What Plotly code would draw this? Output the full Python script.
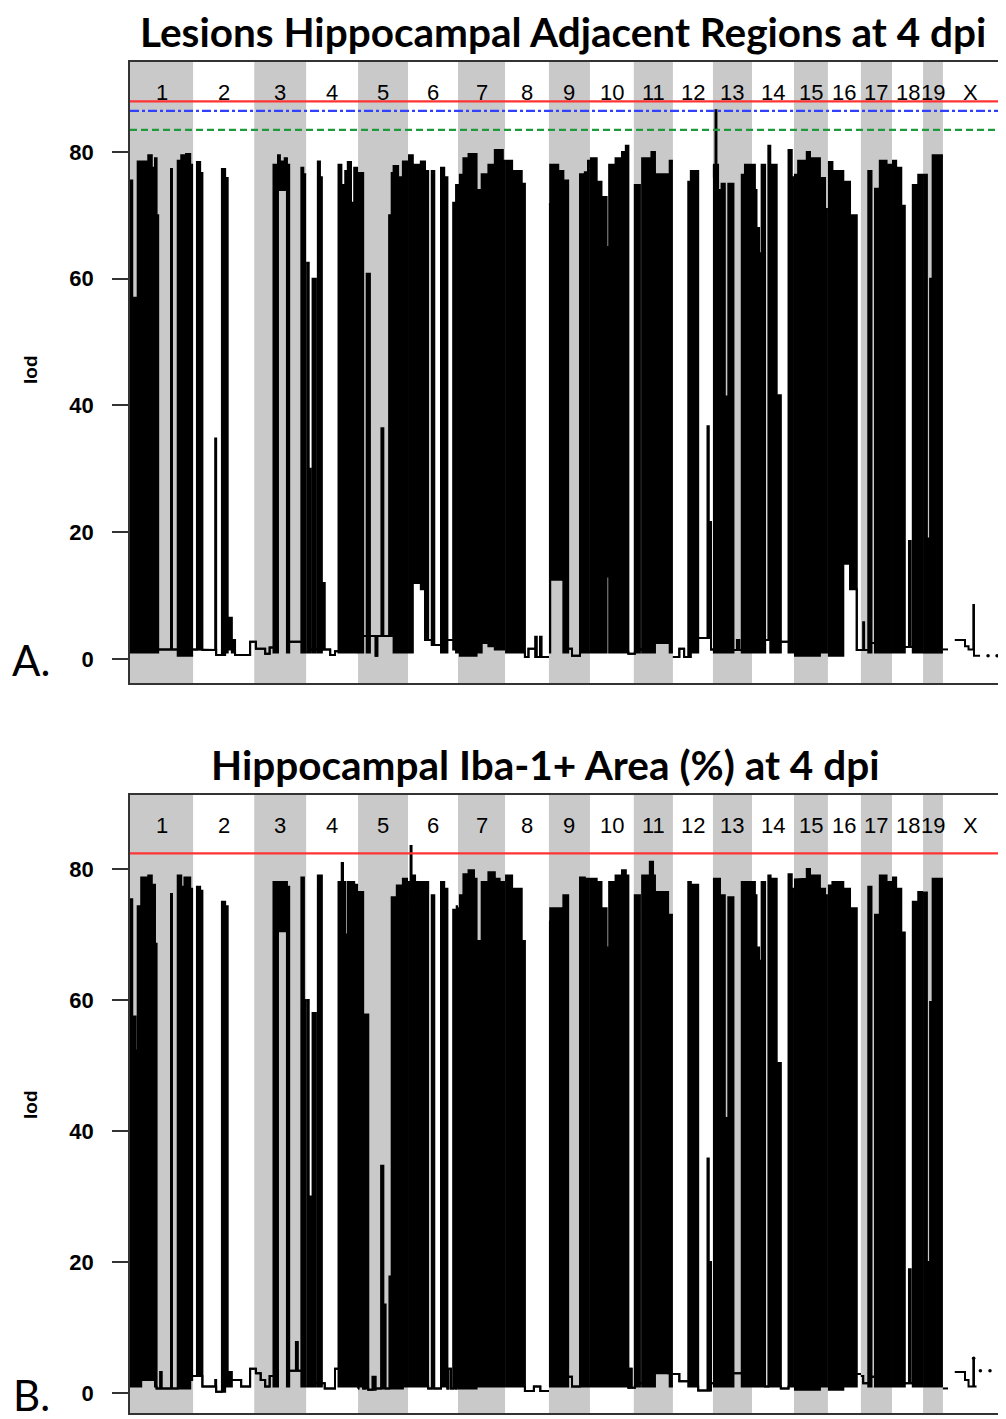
import plotly.graph_objects as go

# ---------------- data ----------------
chrom_names = ["1", "2", "3", "4", "5", "6", "7", "8", "9", "10",
               "11", "12", "13", "14", "15", "16", "17", "18", "19", "X"]
chrom_len_mb = [197, 191, 162, 162, 156, 156, 147, 137, 128, 137,
                122, 125, 122, 131, 106, 103, 97, 97, 62, 172]

# LOD scan, panel A (Lesions): per chromosome, steps of (end Mb, upper LOD, lower LOD)
A1 = [(7,75.5,1),(24,57,1),(57,78.5,1),(68,79.5,1),(78,77.5,1),(83,79,1),(88,70,1),(128,1.5,1.5),(131,77.3,1.5),(149,1.5,1.5),(160,78.6,0.5),(175,79.5,0.5),(188,79.7,0.5),(197,78,0.5)]
A2 = [(12,1.5,1.5),(22,78.4,1.5),(29,76.7,1.5),(69,1.4,1.4),(72,34.8,1.4),(90,0.6,0.6),(100,77.3,0.6),(108,75.9,1),(121,6.5,1.5),(131,3,1),(178,0.6,0.6),(191,2.7,2.7)]
A3 = [(5,2.7,2.7),(34,1.6,1.6),(48,0.8,0.8),(60,1.8,1.8),(74,78,1),(80,79.5,74),(95,78.5,74),(102,79,74),(109,78,1),(147,2.7,2.7),(153,77.5,1),(162,76.5,1)]
A4 = [(8,62.5,1),(13.5,30,1),(20,1.5,1.5),(30,60,1),(36.5,1.5,1.5),(43,78.5,1),(49,76,1),(52,1.5,1.5),(58,12,1.5),(75,1.5,1.5),(90,0.6,0.6),(101,1.2,1.2),(110,78,1),(122,74.8,1),(130,77,1),(140,78.4,1),(150,72,1),(162,77.5,1)]
A5 = [(1,3.6,3.6),(16,76.7,1),(27,3.6,3.6),(37,60.8,1),(55,3.6,3.6),(60,0.5,0.5),(73,3.6,3.6),(79,36.4,3.6),(97,3.6,3.6),(105,70,3.6),(111,76.7,12),(125,77.8,1),(140,76,1),(156,78.5,1)]
A6 = [(15,79.5,1),(40,78,12),(53,78.5,11),(63,77,3),(74,3,3),(82,77,2.2),(103,2.2,2.2),(113,77.5,1),(123,76,1),(141,3,3),(146,72,1.5),(150,3,3),(156,74.8,1)]
A7 = [(6,74.8,1),(17,76.4,0.5),(33,79,0.5),(58,79.7,0.5),(74,74,1),(95,76.5,2.5),(115,78,2),(140,80.3,1.5),(147,78.6,1.5)]
A8 = [(22,78.6,1),(52,77,1),(62,75,1),(73,0.3,0.3),(94,1.6,1.6),(99,3.5,0.3),(109,0.3,0.3),(114,3.5,0.3),(137,0.3,0.3)]
A9 = [(4,71.8,1),(29,78,12.5),(45,77,12.5),(60,75.5,1),(72,1.6,1.6),(97,0.5,0.5),(112,76.5,1),(122,76.8,1),(128,78.6,1)]
A10 = [(21,79,1),(36,75.3,1),(52,72.9,1),(60,65,13),(80,78,1),(100,79,1),(112,80,1),(120,81,1),(137,0.8,0.8)]
A11 = [(3,0.8,0.8),(19,74.8,1),(26,1.5,1.5),(55,79,1),(66,80,1),(107,76.5,2.5),(112,2.5,2.5),(122,78.6,1)]
A12 = [(20,0.3,0.3),(35,1.6,1.6),(48,0.3,0.3),(56,75.3,0.3),(79,77,1),(108,3.3,3.3),(112,36.7,3.3),(115,3.3,3.3),(119,21.6,3.3),(125,1.5,1.5)]
A13 = [(3,78,1),(8,76,1),(11,86.6,1),(16,78,1),(22,74,1),(27,1.5,1.5),(37,75,1),(42,41.4,1),(48,1.5,1.5),(64,75,1),(75,1.4,1.4),(82,3,3),(90,1.4,1.4),(100,76.4,1),(122,78,1)]
A14 = [(9,78,1),(14,74,1),(22,68,1),(30,64,1),(41,78,1),(51,3,3),(57,81,3),(77,78,1),(90,41.6,1),(114,2.7,2.7),(124,80.3,1),(131,76,1)]
A15 = [(13,76.4,0.5),(40,78.6,0.5),(50,80,0.5),(81,79,0.5),(97,75.9,1),(106,71,1)]
A16 = [(14,78.4,0.5),(48,77,0.5),(69,75.3,15),(90,70,11),(103,1.4,1.4)]
A17 = [(7,1.4,1.4),(10,5.8,1.4),(23,1.4,1.4),(33,77,1),(44,2.5,2.5),(54,74.2,1),(59,2.5,2.5),(80,78.6,1),(97,78,1)]
A18 = [(13,78.6,1),(29,77.5,1),(40,71.5,1),(53,1.9,1.9),(58,18.6,1.9),(65,1.9,1.9),(82,74.8,1),(97,76.4,1)]
A19 = [(12,76.4,1),(22,19,1),(30,60,1),(62,79.5,1)]
A_X = [(16,1.5),(37,None),(69,3),(80,2),(95,1.5),(97,8.5),(116,0.5)]   # (end Mb, LOD)
A_X_dot_mb = [141, 169]
A_X_dot_lod = [0.5, 0.5]
A_thresholds = [88.0, 86.5, 83.5]

# LOD scan, panel B (Iba-1+ area)
B1 = [(7,75.4,1),(17,57.5,1),(24,52.3,1),(35,74.3,1),(57,78.7,2),(68,79,2),(78,77.6,2),(83,68.6,1),(94,0.7,0.7),(99,3.2,0.7),(128,0.7,0.7),(131,76.2,0.7),(149,0.7,0.7),(160,79,0.7),(170,77.3,0.7),(188,78.7,0.7),(197,77,2)]
B2 = [(12,2.6,2.6),(22,77.3,2.6),(29,76.7,2.6),(69,1,1),(72,2,1),(90,0.2,0.2),(100,75,0.2),(108,74.3,1),(121,3.2,1),(150,2,2),(178,1,1),(191,3.7,3.7)]
B3 = [(5,3.7,3.7),(20,3,3),(34,2,2),(48,1,1),(60,2.6,2.6),(74,78,1),(102,78,70.5),(109,77.3,1),(130,3.4,3.4),(136,7.8,3.4),(147,3.4,3.4),(155,78.7,1),(162,60,1)]
B4 = [(8,60,1),(14,30,1),(20,1.5,1.5),(30,58,1),(36.5,1.5,1.5),(49,79,1),(58,1.5,1.5),(90,0.7,0.7),(101,3.7,3.7),(111,78,1),(115,80.9,1),(122,78,1),(130,70,1),(150,78,1),(162,77.6,1)]
B5 = [(1,0.7,0.7),(16,76.5,1),(22,0.7,0.7),(32,57.8,0.7),(45,0.5,0.5),(55,2.5,0.5),(72,0.7,0.7),(79,34.7,0.7),(86,13.5,0.7),(98,0.7,0.7),(105,17.8,0.7),(121,75.7,0.7),(140,77.5,0.7),(156,78.5,1)]
B6 = [(8,78,1),(11,83.5,1),(22,79,1),(63,78,1),(74,0.7,0.7),(82,76,0.7),(103,0.7,0.7),(113,78,1),(123,77,1),(126,0.7,0.7),(134,3.7,3.7),(141,0.7,0.7),(150,73.8,0.7),(152,0.7,0.7),(156,74.3,1)]
B7 = [(6,74,0.7),(17,76,0.7),(33,79.2,0.7),(50,79.8,0.7),(58,78.5,0.7),(74,69,1),(95,78,1),(115,79.5,1),(130,78.5,1),(147,78,1)]
B8 = [(22,79,1),(52,77,1),(62,69,1),(90,0.3,0.3),(110,1,1),(137,0.3,0.3)]
B9 = [(4,72,1),(29,74,1),(45,74,1),(60,76,1),(72,2.5,2.5),(97,1,1),(112,78.7,1),(128,78.5,1)]
B10 = [(21,78.5,1),(36,78,1),(52,74,1),(60,68,1),(80,78,1),(100,79,1),(112,79.8,1),(120,79,1),(125,0.8,0.8),(130,3.7,3.7),(137,0.8,0.8)]
B11 = [(3,0.8,0.8),(19,76,1),(26,1.5,1.5),(50,79,1),(60,81.1,1),(66,79,1),(107,76.5,3),(112,3,3),(122,73,1)]
B12 = [(20,2.9,2.9),(48,1.8,1.8),(56,78,1),(79,77.6,1),(108,0.4,0.4),(112,35.8,0.4),(115,0.4,0.4),(119,20,0.4),(125,1.5,1.5)]
B13 = [(3,78.5,1),(22,78.5,1),(27,2,2),(37,76,1),(42,42,1),(48,2,2),(64,75.7,1),(90,3,3),(100,78,1),(122,78,1)]
B14 = [(9,78,1),(14,76,1),(22,68,1),(30,66,1),(41,78,1),(51,1,1),(58,79,1),(77,78.5,1),(90,50.4,1),(114,0.7,0.7),(124,79.2,1),(131,77,1)]
B15 = [(13,78.4,0.5),(40,78.5,0.5),(50,80,0.5),(81,79,0.5),(97,77,1),(106,76,1)]
B16 = [(14,77.5,0.5),(48,78,0.5),(69,77,1),(90,74,1),(103,2.9,2.9)]
B17 = [(7,2.6,2.6),(23,1.5,1.5),(33,77.3,1),(44,2.5,2.5),(54,73,1),(59,2.5,2.5),(80,79,1),(97,78,1)]
B18 = [(13,78.7,1),(29,77,1),(40,70.3,1),(53,1.5,1.5),(58,18.9,1.5),(65,1.5,1.5),(82,75,1),(97,76.5,1)]
B19 = [(12,76.4,1),(22,20,1),(30,59.7,1),(62,78.5,1)]
B_X = [(16,0.7),(37,None),(69,3.2),(80,2),(95,1),(97,5.3),(105,1)]
B_X_dot_mb = [96, 117, 147]
B_X_dot_lod = [5.3, 3.4, 3.4]
B_thresholds = [82.4]

A_steps = [A1, A2, A3, A4, A5, A6, A7, A8, A9, A10, A11, A12, A13, A14, A15, A16, A17, A18, A19]
B_steps = [B1, B2, B3, B4, B5, B6, B7, B8, B9, B10, B11, B12, B13, B14, B15, B16, B17, B18, B19]

# ---------------- figure ----------------
offsets = []
acc = 0
for L in chrom_len_mb:
    offsets.append(acc)
    acc += L
total_mb = acc

# the page body has an 8px margin, so the figure is 8px smaller and everything is
# positioned in reference-image pixel coordinates through px()/py().
BODY = 8
W, H = 1006 - BODY, 1419 - BODY
ML, MR, MT, MB = 130 - BODY, 8, 62 - BODY, 6
PH = H - MT - MB
PW = W - ML - MR

def py(yref):
    return (H - MB - (yref - BODY)) / PH

def px(xref):
    return ((xref - BODY) - ML) / PW

fig = go.Figure()
LINE_W = 2.0

def add_panel(steps, xsteps, dot_mb, dot_lod, xa, ya):
    for i, segs in enumerate(steps):
        off = offsets[i]
        xs, top, bot = [], [], []
        s = 0
        for (e, t, b) in segs:
            xs += [off + s, off + e]
            top += [t, t]
            bot += [b, b]
            s = e
        fig.add_trace(go.Scatter(x=xs, y=bot, mode="lines", xaxis=xa, yaxis=ya,
                                 line=dict(color="black", width=LINE_W),
                                 hoverinfo="skip", showlegend=False))
        fig.add_trace(go.Scatter(x=xs, y=top, mode="lines", xaxis=xa, yaxis=ya,
                                 fill="tonexty", fillcolor="black",
                                 line=dict(color="black", width=LINE_W),
                                 hoverinfo="skip", showlegend=False))
    off = offsets[19]
    xs, ys = [], []
    s = 0
    for (e, v) in xsteps:
        if v is None:
            xs.append(None); ys.append(None)
        else:
            xs += [off + s, off + e]
            ys += [v, v]
        s = e
    fig.add_trace(go.Scatter(x=xs, y=ys, mode="lines", xaxis=xa, yaxis=ya,
                             line=dict(color="black", width=LINE_W), connectgaps=False,
                             hoverinfo="skip", showlegend=False))
    fig.add_trace(go.Scatter(x=[off + m for m in dot_mb], y=dot_lod, mode="markers",
                             xaxis=xa, yaxis=ya, marker=dict(color="black", size=3.5),
                             hoverinfo="skip", showlegend=False))

add_panel(A_steps, A_X, A_X_dot_mb, A_X_dot_lod, "x", "y")
add_panel(B_steps, B_X, B_X_dot_mb, B_X_dot_lod, "x2", "y2")

shapes = []
annots = []
GRAY = "#c9c9c9"
for xr, yr, ylab in [("x", "y", 0.951), ("x2", "y2", 0.950)]:
    for i, (nm, L) in enumerate(zip(chrom_names, chrom_len_mb)):
        if i % 2 == 0 and nm != "X":
            shapes.append(dict(type="rect", xref=xr, yref=yr + " domain",
                               x0=offsets[i], x1=offsets[i] + L, y0=0, y1=1,
                               fillcolor=GRAY, line=dict(width=0), layer="below"))
        annots.append(dict(x=offsets[i] + L / 2, y=ylab, xref=xr, yref=yr + " domain",
                           text=nm, showarrow=False, xanchor="center", yanchor="middle",
                           font=dict(family="Liberation Sans", size=22, color="black")))

styles_A = [dict(color="#ff3333", width=2.2, dash="solid"),
            dict(color="#3040ff", width=2.2, dash="9px,3px,3px,3px"),
            dict(color="#1f9a3a", width=2.2, dash="7px,4px")]
for v, st in zip(A_thresholds, styles_A):
    shapes.append(dict(type="line", xref="x domain", yref="y", x0=0, x1=1, y0=v, y1=v, line=st))
for v in B_thresholds:
    shapes.append(dict(type="line", xref="x2 domain", yref="y2", x0=0, x1=1, y0=v, y1=v,
                       line=dict(color="#ff3333", width=2.2)))

TITLE_FONT = dict(family="Lato", size=40.5, color="black", weight="bold")
annots.append(dict(x=px(563), y=py(31), xref="paper", yref="paper", showarrow=False,
                   text="Lesions Hippocampal Adjacent Regions at 4 dpi",
                   xanchor="center", yanchor="middle", font=TITLE_FONT))
annots.append(dict(x=px(545), y=py(764), xref="paper", yref="paper", showarrow=False,
                   text="Hippocampal Iba-1+ Area (%) at 4 dpi",
                   xanchor="center", yanchor="middle", font=TITLE_FONT))
PANEL_FONT = dict(family="Lato", size=42, color="black")
annots.append(dict(x=px(31), y=py(660), xref="paper", yref="paper", showarrow=False,
                   text="A.", xanchor="center", yanchor="middle", font=PANEL_FONT))
annots.append(dict(x=px(31), y=py(1395), xref="paper", yref="paper", showarrow=False,
                   text="B.", xanchor="center", yanchor="middle", font=PANEL_FONT))
LOD_FONT = dict(family="Liberation Sans", size=19, color="black", weight="bold")
for yc in (370, 1105):
    annots.append(dict(x=px(30), y=py(yc), xref="paper", yref="paper", showarrow=False,
                       text="lod", textangle=-90, xanchor="center", yanchor="middle",
                       font=LOD_FONT))

axis_common = dict(showgrid=False, zeroline=False, showline=True, mirror=True,
                   linecolor="#333333", linewidth=1.5)
xcommon = dict(axis_common, range=[0, total_mb], showticklabels=False, ticks="")
ycommon = dict(axis_common, tickvals=[0, 20, 40, 60, 80], ticks="outside", ticklen=16,
               tickwidth=1.5, tickcolor="#333333", ticklabelstandoff=14,
               tickfont=dict(family="Liberation Sans", size=22, color="black", weight="bold"))

fig.update_layout(
    width=W, height=H, autosize=False,
    margin=dict(l=ML, r=MR, t=MT, b=MB),
    paper_bgcolor="white", plot_bgcolor="white",
    xaxis=dict(xcommon, domain=[0, 1], anchor="y"),
    yaxis=dict(ycommon, domain=[py(683), 1.0], range=[-3.8, 94.2], anchor="x"),
    xaxis2=dict(xcommon, domain=[0, 1], anchor="y2"),
    yaxis2=dict(ycommon, domain=[0.0, py(795)], range=[-3.05, 91.3], anchor="x2"),
    shapes=shapes, annotations=annots, showlegend=False,
)

fig.write_html("out.html")
